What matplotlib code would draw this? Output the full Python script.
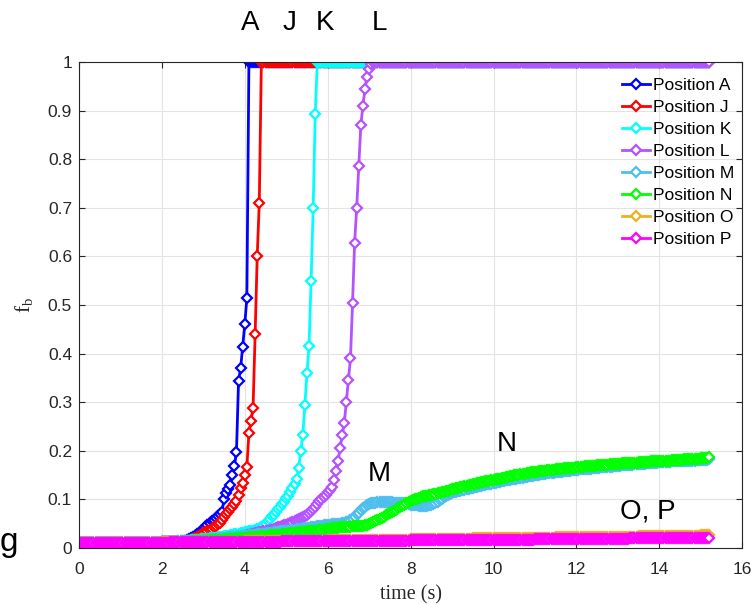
import numpy as np
import matplotlib
matplotlib.use("Agg")
import matplotlib.pyplot as plt

plt.rcParams['font.family'] = ['Liberation Sans', 'DejaVu Sans']
plt.rcParams['mathtext.fontset'] = 'custom'
plt.rcParams['mathtext.rm'] = 'Liberation Serif'
plt.rcParams['mathtext.it'] = 'Liberation Serif'

# sample times (s), every 0.05 s from 0 to 15.2
t = np.round(np.arange(0, 15.225, 0.05), 2)

# f_b, ten samples (half a second) per row
# common start of all the curves, 0 - 1.95 s
start = [0.010, 0.010, 0.010, 0.010, 0.010, 0.010, 0.010, 0.010, 0.010, 0.010,
         0.010, 0.010, 0.010, 0.010, 0.010, 0.010, 0.011, 0.011, 0.011, 0.011,
         0.011, 0.011, 0.011, 0.011, 0.011, 0.011, 0.011, 0.011, 0.011, 0.011,
         0.011, 0.011, 0.011, 0.011, 0.011, 0.011, 0.011, 0.011, 0.011, 0.011]

f_A = start + [
    0.012, 0.012, 0.012, 0.012, 0.012, 0.012, 0.012, 0.012, 0.012, 0.012,
    0.013, 0.014, 0.016, 0.018, 0.020, 0.022, 0.025, 0.028, 0.031, 0.034,
    0.038, 0.043, 0.048, 0.052, 0.055, 0.058, 0.062, 0.066, 0.070, 0.075,
    0.100, 0.113, 0.122, 0.130, 0.150, 0.169, 0.198, 0.344, 0.370, 0.414,
    0.460, 0.514, 1, 1, 1, 1, 1, 1, 1, 1,
    1, 1, 1, 1, 1, 1, 1, 1, 1, 1,
    1, 1, 1, 1, 1, 1, 1, 1, 1, 1, 1, 1, 1, 1, 1, 1, 1, 1, 1, 1,
    1, 1, 1, 1, 1, 1, 1, 1, 1, 1, 1, 1, 1, 1, 1, 1, 1, 1, 1, 1,
    1, 1, 1, 1, 1, 1, 1, 1, 1, 1, 1, 1, 1, 1, 1, 1, 1, 1, 1, 1,
    1, 1, 1, 1, 1, 1, 1, 1, 1, 1, 1, 1, 1, 1, 1, 1, 1, 1, 1, 1,
    1, 1, 1, 1, 1, 1, 1, 1, 1, 1, 1, 1, 1, 1, 1, 1, 1, 1, 1, 1,
    1, 1, 1, 1, 1, 1, 1, 1, 1, 1, 1, 1, 1, 1, 1, 1, 1, 1, 1, 1,
    1, 1, 1, 1, 1, 1, 1, 1, 1, 1, 1, 1, 1, 1, 1, 1, 1, 1, 1, 1,
    1, 1, 1, 1, 1, 1, 1, 1, 1, 1, 1, 1, 1, 1, 1, 1, 1, 1, 1, 1,
    1, 1, 1, 1, 1, 1, 1, 1, 1, 1, 1, 1, 1, 1, 1, 1, 1, 1, 1, 1,
    1, 1, 1, 1, 1, 1, 1, 1, 1, 1, 1, 1, 1, 1, 1, 1, 1, 1, 1, 1,
    1, 1, 1, 1, 1]
f_J = start + [
    0.012, 0.012, 0.012, 0.012, 0.012, 0.012, 0.012, 0.012, 0.012, 0.012,
    0.013, 0.013, 0.014, 0.015, 0.017, 0.018, 0.020, 0.022, 0.025, 0.027,
    0.030, 0.032, 0.035, 0.038, 0.040, 0.043, 0.046, 0.049, 0.052, 0.057,
    0.063, 0.069, 0.075, 0.080, 0.085, 0.090, 0.097, 0.110, 0.123, 0.134,
    0.150, 0.167, 0.236, 0.262, 0.289, 0.440, 0.600, 0.710, 1, 1,
    1, 1, 1, 1, 1, 1, 1, 1, 1, 1,
    1, 1, 1, 1, 1, 1, 1, 1, 1, 1, 1, 1, 1, 1, 1, 1, 1, 1, 1, 1,
    1, 1, 1, 1, 1, 1, 1, 1, 1, 1, 1, 1, 1, 1, 1, 1, 1, 1, 1, 1,
    1, 1, 1, 1, 1, 1, 1, 1, 1, 1, 1, 1, 1, 1, 1, 1, 1, 1, 1, 1,
    1, 1, 1, 1, 1, 1, 1, 1, 1, 1, 1, 1, 1, 1, 1, 1, 1, 1, 1, 1,
    1, 1, 1, 1, 1, 1, 1, 1, 1, 1, 1, 1, 1, 1, 1, 1, 1, 1, 1, 1,
    1, 1, 1, 1, 1, 1, 1, 1, 1, 1, 1, 1, 1, 1, 1, 1, 1, 1, 1, 1,
    1, 1, 1, 1, 1, 1, 1, 1, 1, 1, 1, 1, 1, 1, 1, 1, 1, 1, 1, 1,
    1, 1, 1, 1, 1, 1, 1, 1, 1, 1, 1, 1, 1, 1, 1, 1, 1, 1, 1, 1,
    1, 1, 1, 1, 1, 1, 1, 1, 1, 1, 1, 1, 1, 1, 1, 1, 1, 1, 1, 1,
    1, 1, 1, 1, 1, 1, 1, 1, 1, 1, 1, 1, 1, 1, 1, 1, 1, 1, 1, 1,
    1, 1, 1, 1, 1]
f_K = start + [
    0.012, 0.012, 0.012, 0.012, 0.013, 0.013, 0.013, 0.013, 0.014, 0.014,
    0.014, 0.014, 0.015, 0.015, 0.016, 0.016, 0.016, 0.017, 0.017, 0.018,
    0.018, 0.019, 0.019, 0.020, 0.020, 0.021, 0.021, 0.022, 0.022, 0.023,
    0.024, 0.025, 0.025, 0.026, 0.027, 0.028, 0.028, 0.029, 0.030, 0.031,
    0.032, 0.033, 0.034, 0.035, 0.036, 0.037, 0.039, 0.040, 0.043, 0.046,
    0.050, 0.055, 0.060, 0.065, 0.068, 0.075, 0.080, 0.085, 0.090, 0.094,
    0.102, 0.108, 0.115, 0.123, 0.132, 0.141, 0.165, 0.200, 0.232, 0.294,
    0.360, 0.415, 0.550, 0.700, 0.893, 1, 1, 1, 1, 1,
    1, 1, 1, 1, 1, 1, 1, 1, 1, 1, 1, 1, 1, 1, 1, 1, 1, 1, 1, 1,
    1, 1, 1, 1, 1, 1, 1, 1, 1, 1, 1, 1, 1, 1, 1, 1, 1, 1, 1, 1,
    1, 1, 1, 1, 1, 1, 1, 1, 1, 1, 1, 1, 1, 1, 1, 1, 1, 1, 1, 1,
    1, 1, 1, 1, 1, 1, 1, 1, 1, 1, 1, 1, 1, 1, 1, 1, 1, 1, 1, 1,
    1, 1, 1, 1, 1, 1, 1, 1, 1, 1, 1, 1, 1, 1, 1, 1, 1, 1, 1, 1,
    1, 1, 1, 1, 1, 1, 1, 1, 1, 1, 1, 1, 1, 1, 1, 1, 1, 1, 1, 1,
    1, 1, 1, 1, 1, 1, 1, 1, 1, 1, 1, 1, 1, 1, 1, 1, 1, 1, 1, 1,
    1, 1, 1, 1, 1, 1, 1, 1, 1, 1, 1, 1, 1, 1, 1, 1, 1, 1, 1, 1,
    1, 1, 1, 1, 1, 1, 1, 1, 1, 1, 1, 1, 1, 1, 1, 1, 1, 1, 1, 1,
    1, 1, 1, 1, 1]
f_L = start + [
    0.012, 0.012, 0.012, 0.012, 0.012, 0.012, 0.013, 0.013, 0.013, 0.013,
    0.013, 0.013, 0.014, 0.014, 0.014, 0.014, 0.014, 0.015, 0.015, 0.015,
    0.015, 0.016, 0.016, 0.016, 0.016, 0.017, 0.017, 0.018, 0.018, 0.018,
    0.019, 0.019, 0.020, 0.020, 0.021, 0.021, 0.022, 0.022, 0.023, 0.024,
    0.025, 0.026, 0.027, 0.028, 0.029, 0.030, 0.031, 0.032, 0.033, 0.034,
    0.035, 0.036, 0.037, 0.038, 0.040, 0.041, 0.043, 0.044, 0.045, 0.047,
    0.048, 0.050, 0.052, 0.053, 0.055, 0.057, 0.059, 0.061, 0.063, 0.065,
    0.068, 0.072, 0.076, 0.080, 0.085, 0.090, 0.096, 0.100, 0.105, 0.110,
    0.115, 0.120, 0.126, 0.140, 0.159, 0.180, 0.205, 0.232, 0.257, 0.300,
    0.345, 0.390, 0.505, 0.628, 0.700, 0.785, 0.870, 0.910, 0.945, 0.970,
    0.985, 0.995, 1, 1, 1, 1, 1, 1, 1, 1,
    1, 1, 1, 1, 1, 1, 1, 1, 1, 1,
    1, 1, 1, 1, 1, 1, 1, 1, 1, 1, 1, 1, 1, 1, 1, 1, 1, 1, 1, 1,
    1, 1, 1, 1, 1, 1, 1, 1, 1, 1, 1, 1, 1, 1, 1, 1, 1, 1, 1, 1,
    1, 1, 1, 1, 1, 1, 1, 1, 1, 1, 1, 1, 1, 1, 1, 1, 1, 1, 1, 1,
    1, 1, 1, 1, 1, 1, 1, 1, 1, 1, 1, 1, 1, 1, 1, 1, 1, 1, 1, 1,
    1, 1, 1, 1, 1, 1, 1, 1, 1, 1, 1, 1, 1, 1, 1, 1, 1, 1, 1, 1,
    1, 1, 1, 1, 1, 1, 1, 1, 1, 1, 1, 1, 1, 1, 1, 1, 1, 1, 1, 1,
    1, 1, 1, 1, 1, 1, 1, 1, 1, 1, 1, 1, 1, 1, 1, 1, 1, 1, 1, 1,
    1, 1, 1, 1, 1]
f_M = start + [
    0.012, 0.012, 0.012, 0.012, 0.012, 0.013, 0.013, 0.013, 0.013, 0.014,
    0.014, 0.014, 0.014, 0.015, 0.015, 0.015, 0.015, 0.016, 0.016, 0.016,
    0.017, 0.017, 0.018, 0.018, 0.018, 0.019, 0.019, 0.020, 0.020, 0.020,
    0.021, 0.021, 0.022, 0.022, 0.022, 0.023, 0.023, 0.023, 0.024, 0.024,
    0.025, 0.025, 0.026, 0.026, 0.027, 0.027, 0.028, 0.028, 0.029, 0.029,
    0.030, 0.030, 0.031, 0.031, 0.032, 0.032, 0.033, 0.034, 0.035, 0.035,
    0.036, 0.036, 0.037, 0.037, 0.038, 0.039, 0.040, 0.040, 0.041, 0.041,
    0.042, 0.042, 0.043, 0.043, 0.044, 0.045, 0.046, 0.046, 0.047, 0.047,
    0.048, 0.048, 0.049, 0.049, 0.049, 0.049, 0.050, 0.051, 0.052, 0.053,
    0.054, 0.057, 0.060, 0.064, 0.069, 0.073, 0.078, 0.082, 0.085, 0.088,
    0.090, 0.092, 0.093, 0.093, 0.094, 0.094, 0.094, 0.094, 0.094, 0.094,
    0.094, 0.094, 0.093, 0.093, 0.093, 0.093, 0.092, 0.092, 0.091, 0.090,
    0.089, 0.089, 0.088, 0.088, 0.087, 0.087, 0.087, 0.087, 0.087, 0.088,
    0.089, 0.091, 0.093, 0.095, 0.098, 0.101, 0.104, 0.107, 0.109, 0.111,
    0.113, 0.115, 0.116, 0.117, 0.118, 0.119, 0.120, 0.121, 0.122, 0.123,
    0.124, 0.125, 0.126, 0.127, 0.128, 0.129, 0.130, 0.131, 0.131, 0.132,
    0.133, 0.134, 0.135, 0.136, 0.137, 0.138, 0.139, 0.140, 0.140, 0.141,
    0.142, 0.143, 0.144, 0.145, 0.145, 0.146, 0.147, 0.148, 0.148, 0.149,
    0.150, 0.150, 0.151, 0.152, 0.152, 0.153, 0.154, 0.154, 0.155, 0.155,
    0.156, 0.156, 0.157, 0.157, 0.158, 0.158, 0.159, 0.159, 0.160, 0.160,
    0.161, 0.161, 0.162, 0.162, 0.163, 0.163, 0.163, 0.163, 0.164, 0.164,
    0.165, 0.165, 0.166, 0.166, 0.167, 0.167, 0.167, 0.167, 0.168, 0.168,
    0.169, 0.169, 0.170, 0.170, 0.171, 0.171, 0.171, 0.171, 0.172, 0.172,
    0.173, 0.173, 0.173, 0.173, 0.174, 0.174, 0.175, 0.175, 0.175, 0.175,
    0.176, 0.176, 0.177, 0.177, 0.177, 0.177, 0.178, 0.178, 0.178, 0.178,
    0.179, 0.179, 0.179, 0.179, 0.180, 0.180, 0.180, 0.180, 0.181, 0.181,
    0.182, 0.182, 0.182, 0.182, 0.183]
f_N = start + [
    0.012, 0.012, 0.012, 0.012, 0.012, 0.012, 0.012, 0.012, 0.013, 0.013,
    0.013, 0.013, 0.013, 0.013, 0.014, 0.014, 0.014, 0.014, 0.014, 0.014,
    0.015, 0.015, 0.016, 0.016, 0.016, 0.016, 0.017, 0.017, 0.017, 0.017,
    0.018, 0.018, 0.018, 0.018, 0.019, 0.019, 0.020, 0.020, 0.020, 0.020,
    0.021, 0.021, 0.022, 0.022, 0.022, 0.022, 0.023, 0.023, 0.024, 0.024,
    0.025, 0.025, 0.026, 0.026, 0.026, 0.026, 0.027, 0.027, 0.028, 0.028,
    0.029, 0.029, 0.030, 0.030, 0.031, 0.031, 0.032, 0.032, 0.033, 0.033,
    0.034, 0.034, 0.035, 0.035, 0.036, 0.036, 0.037, 0.037, 0.038, 0.039,
    0.040, 0.040, 0.041, 0.041, 0.042, 0.042, 0.043, 0.043, 0.043, 0.043,
    0.044, 0.044, 0.045, 0.045, 0.045, 0.045, 0.046, 0.046, 0.047, 0.048,
    0.050, 0.052, 0.054, 0.056, 0.058, 0.060, 0.062, 0.064, 0.067, 0.069,
    0.072, 0.074, 0.077, 0.079, 0.082, 0.084, 0.087, 0.089, 0.092, 0.094,
    0.096, 0.098, 0.100, 0.101, 0.103, 0.104, 0.106, 0.107, 0.108, 0.109,
    0.110, 0.111, 0.112, 0.113, 0.114, 0.115, 0.116, 0.117, 0.118, 0.119,
    0.121, 0.122, 0.123, 0.124, 0.125, 0.126, 0.127, 0.128, 0.129, 0.130,
    0.131, 0.132, 0.133, 0.134, 0.135, 0.136, 0.137, 0.137, 0.138, 0.139,
    0.140, 0.141, 0.142, 0.143, 0.144, 0.145, 0.146, 0.147, 0.148, 0.149,
    0.150, 0.150, 0.151, 0.152, 0.153, 0.153, 0.154, 0.155, 0.156, 0.156,
    0.157, 0.157, 0.158, 0.158, 0.159, 0.159, 0.160, 0.160, 0.161, 0.161,
    0.162, 0.162, 0.163, 0.163, 0.164, 0.164, 0.165, 0.165, 0.165, 0.165,
    0.166, 0.166, 0.167, 0.167, 0.168, 0.168, 0.169, 0.169, 0.169, 0.169,
    0.170, 0.170, 0.171, 0.171, 0.171, 0.171, 0.172, 0.172, 0.172, 0.172,
    0.173, 0.173, 0.174, 0.174, 0.174, 0.174, 0.175, 0.175, 0.175, 0.175,
    0.176, 0.176, 0.177, 0.177, 0.177, 0.177, 0.178, 0.178, 0.178, 0.178,
    0.179, 0.179, 0.180, 0.180, 0.180, 0.180, 0.181, 0.181, 0.181, 0.181,
    0.182, 0.182, 0.183, 0.183, 0.183, 0.183, 0.184, 0.184, 0.184, 0.184,
    0.185, 0.185, 0.186, 0.186, 0.187]
f_O = [
    0.010, 0.010, 0.010, 0.010, 0.010, 0.010, 0.010, 0.010, 0.010, 0.010,
    0.010, 0.010, 0.010, 0.010, 0.010, 0.010, 0.010, 0.010, 0.010, 0.010,
    0.011, 0.011, 0.011, 0.011, 0.011, 0.011, 0.011, 0.011, 0.011, 0.011,
    0.011, 0.011, 0.011, 0.011, 0.011, 0.011, 0.011, 0.011, 0.011, 0.011,
    0.012, 0.012, 0.012, 0.012, 0.012, 0.012, 0.012, 0.012, 0.012, 0.012,
    0.012, 0.012, 0.012, 0.012, 0.012, 0.012, 0.012, 0.012, 0.012, 0.012,
    0.013, 0.013, 0.013, 0.013, 0.013, 0.013, 0.013, 0.013, 0.013, 0.013,
    0.013, 0.013, 0.013, 0.013, 0.013, 0.013, 0.013, 0.013, 0.013, 0.013,
    0.014, 0.014, 0.014, 0.014, 0.014, 0.014, 0.014, 0.014, 0.014, 0.014,
    0.014, 0.014, 0.014, 0.014, 0.014, 0.014, 0.014, 0.014, 0.014, 0.014,
    0.015, 0.015, 0.015, 0.015, 0.015, 0.015, 0.015, 0.015, 0.015, 0.015,
    0.015, 0.015, 0.015, 0.015, 0.015, 0.015, 0.015, 0.015, 0.015, 0.015,
    0.016, 0.016, 0.016, 0.016, 0.016, 0.016, 0.016, 0.016, 0.016, 0.016,
    0.016, 0.016, 0.016, 0.016, 0.016, 0.016, 0.016, 0.016, 0.016, 0.016,
    0.017, 0.017, 0.017, 0.017, 0.017, 0.017, 0.017, 0.017, 0.017, 0.017,
    0.017, 0.017, 0.017, 0.017, 0.017, 0.017, 0.017, 0.017, 0.017, 0.017,
    0.018, 0.018, 0.018, 0.018, 0.018, 0.018, 0.018, 0.018, 0.018, 0.018,
    0.019, 0.019, 0.019, 0.019, 0.019, 0.019, 0.019, 0.019, 0.019, 0.019,
    0.019, 0.019, 0.019, 0.019, 0.019, 0.019, 0.019, 0.019, 0.019, 0.019,
    0.020, 0.020, 0.020, 0.020, 0.020, 0.020, 0.020, 0.020, 0.020, 0.020,
    0.020, 0.020, 0.020, 0.020, 0.020, 0.020, 0.020, 0.020, 0.020, 0.020,
    0.021, 0.021, 0.021, 0.021, 0.021, 0.021, 0.021, 0.021, 0.021, 0.021,
    0.021, 0.021, 0.021, 0.021, 0.021, 0.021, 0.021, 0.021, 0.021, 0.021,
    0.022, 0.022, 0.022, 0.022, 0.022, 0.022, 0.022, 0.022, 0.022, 0.022,
    0.022, 0.022, 0.022, 0.022, 0.022, 0.022, 0.022, 0.022, 0.022, 0.022,
    0.023, 0.023, 0.023, 0.023, 0.023, 0.023, 0.023, 0.023, 0.023, 0.023,
    0.023, 0.023, 0.023, 0.023, 0.023, 0.023, 0.023, 0.023, 0.023, 0.023,
    0.024, 0.024, 0.024, 0.024, 0.024, 0.024, 0.024, 0.024, 0.024, 0.024,
    0.024, 0.024, 0.024, 0.024, 0.024, 0.024, 0.024, 0.024, 0.024, 0.024,
    0.025, 0.025, 0.025, 0.025, 0.025, 0.025, 0.025, 0.025, 0.025, 0.025,
    0.026, 0.026, 0.026, 0.026, 0.026]
f_P = [
    0.010, 0.010, 0.010, 0.010, 0.010, 0.010, 0.010, 0.010, 0.010, 0.010,
    0.010, 0.010, 0.010, 0.010, 0.011, 0.011, 0.011, 0.011, 0.011, 0.011,
    0.011, 0.011, 0.011, 0.011, 0.011, 0.011, 0.011, 0.011, 0.011, 0.011,
    0.011, 0.011, 0.011, 0.011, 0.011, 0.011, 0.011, 0.011, 0.011, 0.011,
    0.011, 0.011, 0.011, 0.011, 0.012, 0.012, 0.012, 0.012, 0.012, 0.012,
    0.012, 0.012, 0.012, 0.012, 0.012, 0.012, 0.012, 0.012, 0.012, 0.012,
    0.012, 0.012, 0.012, 0.012, 0.012, 0.012, 0.012, 0.012, 0.012, 0.012,
    0.013, 0.013, 0.013, 0.013, 0.013, 0.013, 0.013, 0.013, 0.013, 0.013,
    0.013, 0.013, 0.013, 0.013, 0.013, 0.013, 0.013, 0.013, 0.013, 0.013,
    0.013, 0.013, 0.013, 0.013, 0.013, 0.013, 0.013, 0.013, 0.014, 0.014,
    0.014, 0.014, 0.014, 0.014, 0.014, 0.014, 0.014, 0.014, 0.014, 0.014,
    0.014, 0.014, 0.014, 0.014, 0.014, 0.014, 0.014, 0.014, 0.014, 0.014,
    0.014, 0.014, 0.014, 0.014, 0.014, 0.014, 0.014, 0.014, 0.014, 0.014,
    0.015, 0.015, 0.015, 0.015, 0.015, 0.015, 0.015, 0.015, 0.015, 0.015,
    0.015, 0.015, 0.015, 0.015, 0.015, 0.015, 0.015, 0.015, 0.015, 0.015,
    0.015, 0.015, 0.015, 0.015, 0.015, 0.015, 0.015, 0.015, 0.015, 0.015,
    0.016, 0.016, 0.016, 0.016, 0.016, 0.016, 0.016, 0.016, 0.016, 0.016,
    0.016, 0.016, 0.016, 0.016, 0.016, 0.016, 0.016, 0.016, 0.016, 0.016,
    0.016, 0.016, 0.016, 0.016, 0.016, 0.016, 0.016, 0.016, 0.017, 0.017,
    0.017, 0.017, 0.017, 0.017, 0.017, 0.017, 0.017, 0.017, 0.017, 0.017,
    0.017, 0.017, 0.017, 0.017, 0.017, 0.017, 0.017, 0.017, 0.017, 0.017,
    0.017, 0.017, 0.017, 0.017, 0.017, 0.017, 0.017, 0.017, 0.017, 0.017,
    0.018, 0.018, 0.018, 0.018, 0.018, 0.018, 0.018, 0.018, 0.018, 0.018,
    0.018, 0.018, 0.018, 0.018, 0.018, 0.018, 0.018, 0.018, 0.018, 0.018,
    0.018, 0.018, 0.018, 0.018, 0.018, 0.019, 0.019, 0.019, 0.019, 0.019,
    0.019, 0.019, 0.019, 0.019, 0.019, 0.019, 0.019, 0.019, 0.019, 0.019,
    0.019, 0.019, 0.019, 0.019, 0.019, 0.019, 0.020, 0.020, 0.020, 0.020,
    0.020, 0.020, 0.020, 0.020, 0.020, 0.020, 0.020, 0.020, 0.020, 0.020,
    0.020, 0.020, 0.020, 0.020, 0.020, 0.020, 0.020, 0.020, 0.020, 0.020,
    0.021, 0.021, 0.021, 0.021, 0.021, 0.021, 0.021, 0.021, 0.021, 0.021,
    0.021, 0.021, 0.021, 0.021, 0.021]

names = ['Position A', 'Position J', 'Position K', 'Position L',
         'Position M', 'Position N', 'Position O', 'Position P']
colors = ['#0000FF', '#FF0000', '#00FFFF', '#B452FF',
          '#4DBEEE', '#00FF00', '#EDB120', '#FF00FF']
series = [f_A, f_J, f_K, f_L, f_M, f_N, f_O, f_P]

fig = plt.figure(figsize=(7.52, 6.04), dpi=100)
ax = fig.add_axes([0.105, 0.0927, 0.882, 0.8047])

for f, c, name in zip(series, colors, names):
    ax.plot(t, f, '-D', color=c, lw=2, ms=5.2, mfc='white', mec=c,
            mew=1.6, label=name)

ax.set_xlim(0, 16)
ax.set_ylim(0, 1)
ax.set_xticks(np.arange(0, 17, 2))
ax.set_yticks(np.round(np.arange(0, 1.01, 0.1), 1))
ax.set_yticklabels(['0', '0.1', '0.2', '0.3', '0.4', '0.5', '0.6', '0.7',
                    '0.8', '0.9', '1'])
ax.tick_params(direction='in', top=True, right=True, length=4,
               labelsize=12.5, colors='#262626')
ax.tick_params(axis='x', pad=10)
ax.tick_params(axis='y', pad=5)
ax.grid(True, color='#e3e3e3', lw=0.8)
ax.set_axisbelow(True)
for s in ax.spines.values():
    s.set_color('#262626')
    s.set_linewidth(0.8)

ax.set_xlabel('time (s)', family='Liberation Serif', fontsize=14.5,
              color='#262626', labelpad=6)
ax.set_ylabel(r'$\mathrm{f_b}$', fontsize=15, color='#262626', labelpad=9)

ax.legend(loc='upper left', bbox_to_anchor=(0.819, 0.967), frameon=False,
          fontsize=12.5, borderpad=0, borderaxespad=0, handlelength=1.6,
          handletextpad=0.2, labelspacing=0.395)

lab = dict(family=['Liberation Sans Narrow', 'Liberation Sans'], fontsize=20,
           ha='center', va='center', clip_on=False)
ax.text(4.13, 1.081, 'A', **lab)
ax.text(5.07, 1.081, 'J', **lab)
ax.text(5.94, 1.081, 'K', **lab)
ax.text(7.26, 1.081, 'L', **lab)
ax.text(7.24, 0.152, 'M', **lab)
ax.text(10.33, 0.214, 'N', **lab)
ax.text(13.73, 0.075, 'O, P', **lab)
fig.text(0.0, 0.087, 'g', family=['Liberation Sans Narrow', 'Liberation Sans'],
         fontsize=24, ha='left', va='baseline')

fig.savefig('out.png', dpi=100)
